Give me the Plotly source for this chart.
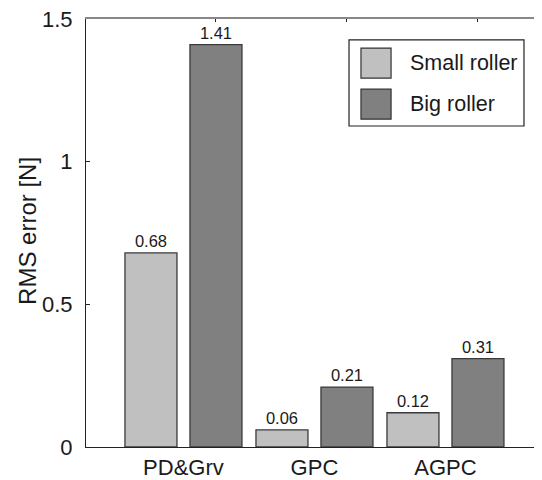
import plotly.graph_objects as go

categories = ["PD&Grv", "GPC", "AGPC"]
small_roller = [0.68, 0.06, 0.12]
big_roller = [1.41, 0.21, 0.31]
series_names = ["Small roller", "Big roller"]
y_ticks = [0, 0.5, 1, 1.5]
y_ticktext = ["0", "0.5", "1", "1.5"]
y_title = "RMS error [N]"

colors = ["#c0c0c0", "#808080"]
FONT = "Liberation Sans, Arial, sans-serif"
TXT = "#1a1a1a"

xpos = list(range(len(categories)))
bargap = 1 / 131
bargroupgap = 0.2

fig = go.Figure()
for name, vals, col in zip(series_names, [small_roller, big_roller], colors):
    fig.add_trace(go.Bar(
        x=xpos, y=vals, name=name,
        marker=dict(color=col, line=dict(color="#3a3a3a", width=1.3)),
        texttemplate="%{y:.2f}", textposition="outside",
        textfont=dict(family=FONT, size=16.5, color=TXT),
        cliponaxis=False, showlegend=False,
    ))

# invisible trace to anchor top axis
fig.add_trace(go.Scatter(x=[xpos[0]], y=[0], xaxis="x2", mode="markers",
                         marker=dict(opacity=0), showlegend=False, hoverinfo="skip"))

offset = (1 - bargap) / 4
xrange = [-0.744, 2.737]

# page body has an 8px margin, so the figure is 8px smaller on each side
fig.update_layout(
    width=534, height=472,
    margin=dict(l=78, r=0, t=11, b=33),
    paper_bgcolor="white", plot_bgcolor="white",
    barmode="group", bargap=bargap, bargroupgap=bargroupgap,
    font=dict(family=FONT, size=22, color=TXT),
    xaxis=dict(range=xrange, tickvals=xpos, ticktext=categories, ticks="",
               showline=True, linecolor="#222222", linewidth=1.2,
               showgrid=False, zeroline=False, automargin=False,
               tickfont=dict(family=FONT, size=22, color=TXT)),
    xaxis2=dict(range=xrange, overlaying="x", side="top", anchor="y",
                tickvals=[p + offset for p in xpos], showticklabels=False,
                ticks="inside", ticklen=3, tickcolor="#222222",
                showline=True, linecolor="#888888", linewidth=1.5,
                showgrid=False, zeroline=False, automargin=False),
    yaxis=dict(range=[0, 1.5], tickvals=y_ticks, ticktext=y_ticktext,
               ticks="inside", ticklen=4, tickcolor="#222222",
               showline=True, linecolor="#222222", linewidth=1.2,
               showgrid=False, zeroline=False, ticklabelstandoff=8,
               automargin=False, ticklabeloverflow="allow",
               tickfont=dict(family=FONT, size=22, color=TXT)),
)

fig.add_annotation(xref="paper", yref="paper", x=-0.127, y=0.505, text=y_title,
                   textangle=-90, showarrow=False, xanchor="center", yanchor="middle",
                   font=dict(family=FONT, size=24, color=TXT))

# custom legend
shapes = [dict(type="rect", xref="paper", yref="paper", x0=0.5768, x1=0.9605,
               y0=0.75, y1=0.951, line=dict(color="#222222", width=1.2),
               fillcolor="white", layer="above")]
sw_y = [(0.862, 0.932), (0.766, 0.836)]
txt_y = [0.897, 0.801]
for (y0, y1), col, ty, name in zip(sw_y, colors, txt_y, series_names):
    shapes.append(dict(type="rect", xref="paper", yref="paper", x0=0.603, x1=0.669,
                       y0=y0, y1=y1, line=dict(color="#333333", width=1.2),
                       fillcolor=col, layer="above"))
    fig.add_annotation(xref="paper", yref="paper", x=0.706, y=ty, text=name,
                       showarrow=False, xanchor="left", yanchor="middle",
                       font=dict(family=FONT, size=21.5, color=TXT))
fig.update_layout(shapes=shapes)

fig.write_html("out.html")
